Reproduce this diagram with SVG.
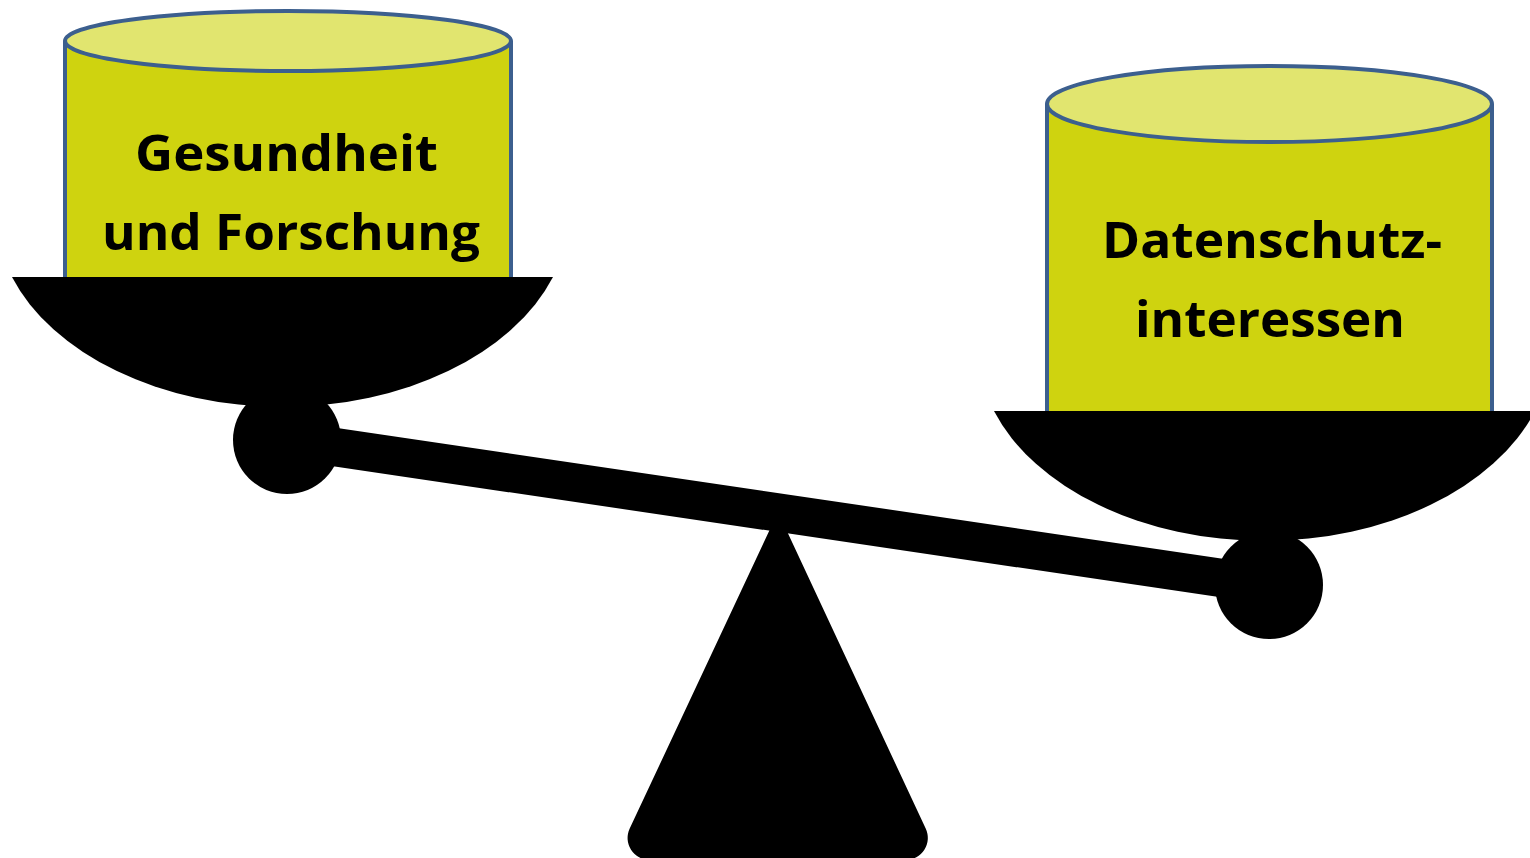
<svg xmlns="http://www.w3.org/2000/svg" width="1530" height="858" viewBox="0 0 1530 858">
  <style>
    .body { fill: #cfd30f; }
    .side { stroke: #3c5f8e; stroke-width: 4; fill: none; }
    .lid { fill: #e1e56f; stroke: #3c5f8e; stroke-width: 4; }
    .solid { fill: #000; }
    .label { font-family: "Open Sans", "Noto Sans", "Liberation Sans", sans-serif; font-weight: 700; font-size: 51px; fill: #000; }
  </style>
  <rect width="1530" height="858" fill="#fff"/>

  <!-- stand -->
  <g id="stand">
    <path class="solid" d="M 778 512 L 629.7 828.6 A 22 22 0 0 0 649.7 860 L 905.7 860 A 22 22 0 0 0 925.7 828.6 Z"/>
  </g>

  <!-- weights (drawn before the pans so the pans cover their bases) -->
  <g id="weight-left">
    <rect class="body" x="65" y="41" width="446" height="250"/>
    <path class="side" d="M 65 41 V 291 M 511 41 V 291"/>
    <ellipse class="lid" cx="288" cy="41" rx="223" ry="30"/>
    <text class="label" x="135" y="171" textLength="303" lengthAdjust="spacingAndGlyphs">Gesundheit</text>
    <text class="label" x="102" y="250" textLength="378" lengthAdjust="spacingAndGlyphs">und Forschung</text>
  </g>

  <g id="weight-right">
    <rect class="body" x="1047" y="104" width="445" height="320"/>
    <path class="side" d="M 1047 104 V 424 M 1492 104 V 424"/>
    <ellipse class="lid" cx="1269.5" cy="104" rx="222.5" ry="38"/>
    <text class="label" x="1102" y="258" textLength="340" lengthAdjust="spacingAndGlyphs">Datenschutz-</text>
    <text class="label" x="1135" y="337" textLength="270" lengthAdjust="spacingAndGlyphs">interessen</text>
  </g>

  <!-- beam with its two end joints and the pans -->
  <g id="beam">
    <line x1="287" y1="440" x2="1269" y2="585" stroke="#000" stroke-width="38.5"/>
    <circle class="solid" cx="287" cy="440" r="54"/>
    <circle class="solid" cx="1269" cy="585" r="54"/>
  </g>

  <g id="pan-left">
    <path class="solid" d="M 12 277 L 553 277 A 287 195 0 0 1 12 277 Z"/>
  </g>
  <g id="pan-right">
    <path class="solid" d="M 994 411 L 1535 411 A 287 195 0 0 1 994 411 Z"/>
  </g>
</svg>
